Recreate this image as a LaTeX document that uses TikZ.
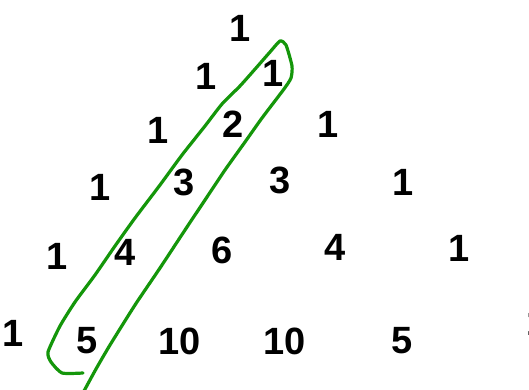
\documentclass[tikz,border=0pt]{standalone}
\usepackage{fontspec}
\setmainfont{Liberation Sans}
\definecolor{loopgreen}{RGB}{20,150,10}
\begin{document}
\begin{tikzpicture}[x=1pt,y=-1pt,
  num/.style={font=\bfseries\fontsize{38}{38}\selectfont, inner sep=0pt, anchor=center},
  loopline/.style={draw=loopgreen, line width=3.2pt, line join=round, line cap=round}]
\useasboundingbox (0,0) rectangle (529,390);
\node[num] (r0a) at (240,28) {1};
\node[num] (r1a) at (206,76) {1};
\node[num] (r1b) at (273,73) {1};
\node[num] (r2a) at (158,130) {1};
\node[num] (r2b) at (233,124) {2};
\node[num] (r2c) at (328,124) {1};
\node[num] (r3a) at (100,187) {1};
\node[num] (r3b) at (184,182) {3};
\node[num] (r3c) at (280,180) {3};
\node[num] (r3d) at (403,182) {1};
\node[num] (r4a) at (57,256) {1};
\node[num] (r4b) at (125,252) {4};
\node[num] (r4c) at (222,250) {6};
\node[num] (r4d) at (335,247) {4};
\node[num] (r4e) at (459,248) {1};
\node[num] (r5a) at (13,333) {1};
\node[num] (r5b) at (87,341) {5};
\node[num] (r5c) at (180,341) {10};
\node[num] (r5d) at (285,341) {10};
\node[num] (r5e) at (402,341) {5};
\node[num] (r5f) at (537,322) {1};
\draw[loopline] plot[smooth, tension=0.35] coordinates {
  (83,373) (62,373) (51,362) (48,352) (60,326) (75,302) (95,275)
  (115,246) (135,218) (160,185) (182,155) (205,126) (222,104)
  (240,86) (256,68) (270,52) (280,41) (286,45) (292,66) (291,78)
  (284,89) (262,118) (245,142) (225,170) (205,200) (185,230)
  (160,268) (135,305) (110,345) (96,369) (84,391)};
\end{tikzpicture}
\end{document}
